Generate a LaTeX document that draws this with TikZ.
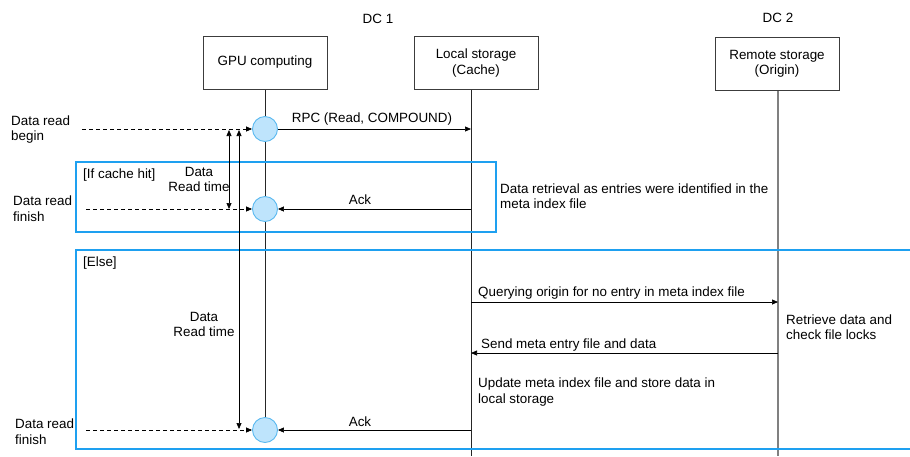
\documentclass[tikz,border=0pt]{standalone}
\usepackage{fontspec}
\setmainfont{Liberation Sans}
\usetikzlibrary{arrows.meta,backgrounds}
\definecolor{framecol}{RGB}{30,160,240}
\definecolor{circfill}{RGB}{190,228,252}
\definecolor{circline}{RGB}{90,185,240}
\definecolor{boxline}{RGB}{60,60,60}
\begin{document}
\begin{tikzpicture}[x=1pt,y=-1pt,
  font=\fontsize{13.4}{15.5}\selectfont,
  actor/.style={draw=boxline, line width=0.9pt, minimum width=124pt, minimum height=53pt, align=center, inner sep=2pt},
  act/.style={circle, draw=circline, fill=circfill, line width=0.9pt, minimum size=25pt, inner sep=0pt},
  msg/.style={-{Triangle[length=6pt,width=5pt]}, line width=0.7pt},
  dmsg/.style={msg, dash pattern=on 4pt off 3pt},
  both/.style={{Triangle[length=6pt,width=5pt]}-{Triangle[length=6pt,width=5pt]}, line width=0.7pt},
  frm/.style={draw=framecol, line width=1.4pt},
  lbl/.style={inner sep=0pt, align=left},
  lifeline/.style={line width=0.8pt, draw=black!85}]
\useasboundingbox (0,0) rectangle (910,456);
% headings
\node (dc1) at (378,19) {DC 1};
\node (dc2) at (778,18) {DC 2};
% actors
\node[actor] (gpu) at (265,62.5) {GPU computing};
\node[actor] (loc) at (476,63) {Local storage\\(Cache)};
\node[actor] (rem) at (777,64) {Remote storage\\(Origin)};
% lifeline coordinates
\coordinate (lt) at (471,89.5);
\coordinate (lb) at (471,456);
\coordinate (rt) at (778,90.5);
\coordinate (rb) at (778,456);
% activations
\node[act] (c1) at (265,129) {};
\node[act] (c2) at (265,209) {};
\node[act] (c3) at (265,430) {};
\begin{scope}[on background layer]
\draw[lifeline] (gpu.south) -- (c3.north);
\draw[lifeline] (lt) -- (lb);
\draw[line width=1.2pt, draw=black!50] (rt) -- (rb);
\end{scope}
% frames
\draw[frm] (76,162) rectangle (496,232);
\draw[frm] (912,250) -- (76,250) -- (76,449) -- (912,449);
\node[lbl, anchor=west] (ifhit) at (83,175) {[If cache hit]};
\node[lbl, anchor=west] (else) at (83,263) {[Else]};
% left labels
\node[lbl, anchor=west] (begin) at (11,129.5) {Data read\\begin};
\node[lbl, anchor=west] (fin1) at (13,208.5) {Data read\\finish};
\node[lbl, anchor=west] (fin2) at (15,431.5) {Data read\\finish};
% dashed arrows
\coordinate (d1) at (82,129);
\coordinate (d2) at (86,209);
\coordinate (d3) at (86,430);
\draw[dmsg] (d1) -- (c1.west);
\draw[dmsg] (d2) -- (c2.west);
\draw[dmsg] (d3) -- (c3.west);
% read time arrows
\coordinate (t1a) at (229,130);
\coordinate (t1b) at (229,209);
\coordinate (t2a) at (239,130);
\coordinate (t2b) at (239,429);
\draw[both] (t1a) -- (t1b);
\draw[both] (t2a) -- (t2b);
\node[lbl, align=center] (rt1) at (199,179.5) {Data\\Read time};
\node[lbl, align=center] (rt2) at (204,324.5) {Data\\Read time};
% messages
\coordinate (l1) at (471,129);
\coordinate (l2) at (471,209);
\coordinate (l3) at (471,302);
\coordinate (l4) at (471,353);
\coordinate (l5) at (471,430);
\coordinate (r3) at (778,302);
\coordinate (r4) at (778,353);
\draw[msg] (c1.east) -- (l1);
\node[lbl] (rpc) at (372,119) {RPC (Read, COMPOUND)};
\draw[msg] (l2) -- (c2.east);
\node[lbl] (ack1) at (360,200) {Ack};
\draw[msg] (l3) -- (r3);
\node[lbl, anchor=west] (qry) at (478,293) {Querying origin for no entry in meta index file};
\draw[msg] (r4) -- (l4);
\node[lbl, anchor=west] (snd) at (481,345) {Send meta entry file and data};
\draw[msg] (l5) -- (c3.east);
\node[lbl] (ack2) at (360,422) {Ack};
% notes
\node[lbl, anchor=west] (ret) at (500,196) {Data retrieval as entries were identified in the\\meta index file};
\node[lbl, anchor=west] (chk) at (786,327) {Retrieve data and\\check file locks};
\node[lbl, anchor=west] (upd) at (478,392) {Update meta index file and store data in\\local storage};
\end{tikzpicture}
\end{document}
